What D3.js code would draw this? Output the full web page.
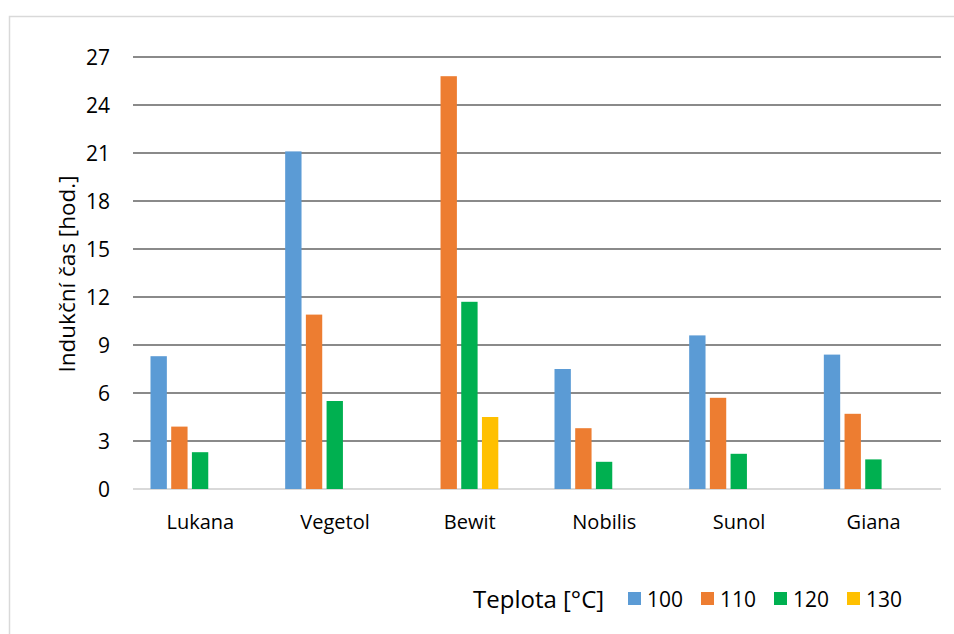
<!DOCTYPE html>
<html>
<head>
<meta charset="utf-8">
<script src="https://cdn.jsdelivr.net/npm/d3@7"></script>
<style>
    body { margin: 0; background: #fff; }
    svg { display: block; font-family: "Open Sans", "Noto Sans", sans-serif; }
</style>
</head>
<body>
<svg id="chart" width="954" height="634"></svg>
<script>
// data
const oils = ["Lukana", "Vegetol", "Bewit", "Nobilis", "Sunol", "Giana"];
const temps = ["100", "110", "120", "130"];
const colors = ["#5b9bd5", "#ed7d31", "#00b050", "#ffc000"];
// values per temperature, in order of oils (null = no bar)
const t100 = [8.3, 21.1, null, 7.5, 9.6, 8.4];
const t110 = [3.9, 10.9, 25.8, 3.8, 5.7, 4.7];
const t120 = [2.3, 5.5, 11.7, 1.7, 2.2, 1.85];
const t130 = [null, null, 4.5, null, null, null];
const yTicks = [0, 3, 6, 9, 12, 15, 18, 21, 24, 27];

const series = [t100, t110, t120, t130];

const svg = d3.select("#chart");

// outer chart border (cut off on right and bottom)
svg.append("rect")
    .attr("x", 9.5).attr("y", 16.5)
    .attr("width", 980).attr("height", 660)
    .attr("fill", "none")
    .attr("stroke", "#d9d9d9")
    .attr("stroke-width", 1.5);

let plot = {left: 133, right: 941, top: 57, bottom: 489};

let y = d3.scaleLinear().domain([0, 27]).range([plot.bottom, plot.top]);

let x0 = d3.scaleBand().domain(oils).range([plot.left, plot.right]).padding(0);

// 5 slots per cluster, last one is empty (as in the source workbook)
let x1 = d3.scaleBand()
    .domain(d3.range(5))
    .range([17.5, x0.bandwidth() - 18])
    .paddingInner(0.21)
    .paddingOuter(0);

// gridlines
svg.append("g")
    .selectAll("line")
    .data(yTicks)
    .join("line")
    .attr("x1", plot.left).attr("x2", plot.right)
    .attr("y1", d => y(d)).attr("y2", d => y(d))
    .attr("stroke", d => d === 0 ? "#d9d9d9" : "#8a8a8a")
    .attr("stroke-width", 2);

// y tick labels
svg.append("g")
    .selectAll("text")
    .data(yTicks)
    .join("text")
    .attr("x", 110)
    .attr("y", d => y(d))
    .attr("dy", "0.36em")
    .attr("text-anchor", "end")
    .attr("font-size", 21)
    .attr("fill", "#000")
    .text(d => d);

// bars
let groups = svg.append("g")
    .selectAll("g")
    .data(oils)
    .join("g")
    .attr("transform", d => `translate(${x0(d)},0)`);

groups.selectAll("rect")
    .data((d, i) => series.map((s, k) => ({k: k, v: s[i]})).filter(e => e.v !== null))
    .join("rect")
    .attr("x", d => x1(d.k))
    .attr("width", x1.bandwidth())
    .attr("y", d => y(d.v))
    .attr("height", d => y(0) - y(d.v))
    .attr("fill", d => colors[d.k]);

// category labels
svg.append("g")
    .selectAll("text")
    .data(oils)
    .join("text")
    .attr("x", d => x0(d) + x0.bandwidth() / 2)
    .attr("y", 529)
    .attr("text-anchor", "middle")
    .attr("font-size", 20)
    .attr("fill", "#000")
    .text(d => d);

// y axis title
svg.append("text")
    .attr("transform", "translate(75,274) rotate(-90)")
    .attr("text-anchor", "middle")
    .attr("font-size", 22.5)
    .attr("fill", "#000")
    .text("Indukční čas [hod.]");

// legend
let legend = svg.append("g");
legend.append("text")
    .attr("x", 473)
    .attr("y", 608)
    .attr("font-size", 24)
    .attr("fill", "#000")
    .text("Teplota [°C]");

let items = legend.selectAll("g")
    .data(temps)
    .join("g")
    .attr("transform", (d, i) => `translate(${628 + i * 73},0)`);

items.append("rect")
    .attr("x", 0).attr("y", 592)
    .attr("width", 13).attr("height", 13)
    .attr("fill", (d, i) => colors[i]);

items.append("text")
    .attr("x", 19)
    .attr("y", 607)
    .attr("font-size", 21)
    .attr("fill", "#000")
    .text(d => d);
</script>
</body>
</html>
